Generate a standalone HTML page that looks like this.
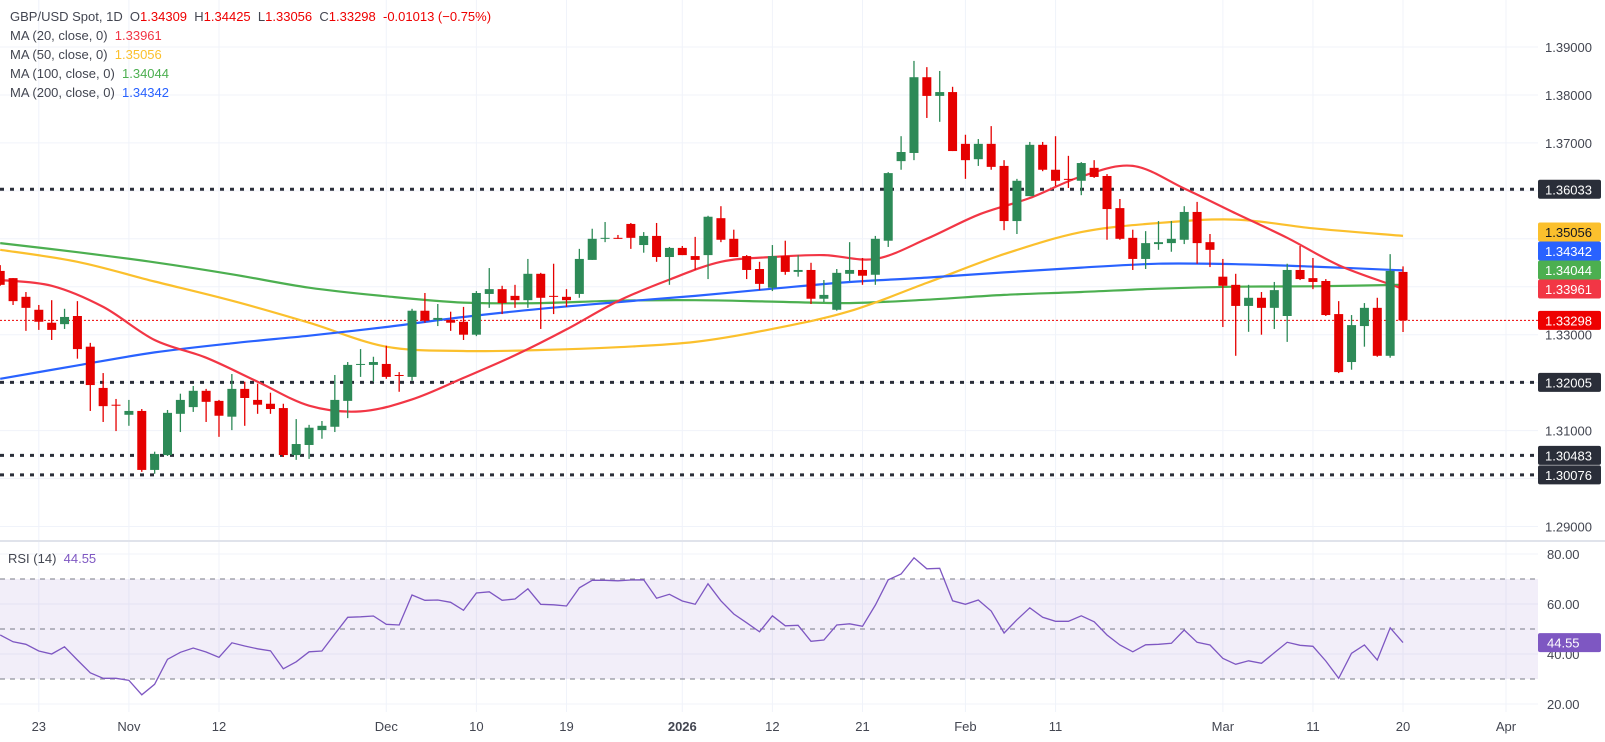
<!DOCTYPE html>
<html><head><meta charset="utf-8"><style>
body{margin:0;background:#fff;}
#wrap{position:relative;width:1605px;height:742px;overflow:hidden;font-family:"Liberation Sans",sans-serif;}
svg{position:absolute;left:0;top:0;}
.lg{position:absolute;left:10px;font-size:13px;color:#434651;white-space:pre;}
</style></head><body>
<div id="wrap">
<svg id="chart" width="1605" height="742"></svg>
<div class="lg" style="top:9px">GBP/USD Spot, 1D  O<span style="color:#e00">1.34309</span>  H<span style="color:#e00">1.34425</span>  L<span style="color:#e00">1.33056</span>  C<span style="color:#e00">1.33298</span>  <span style="color:#e00">-0.01013 (−0.75%)</span></div>
<div class="lg" style="top:28px">MA (20, close, 0)  <span style="color:#f23645">1.33961</span></div>
<div class="lg" style="top:47px">MA (50, close, 0)  <span style="color:#fbc02d">1.35056</span></div>
<div class="lg" style="top:66px">MA (100, close, 0)  <span style="color:#4caf50">1.34044</span></div>
<div class="lg" style="top:85px">MA (200, close, 0)  <span style="color:#2962ff">1.34342</span></div>
<div class="lg" style="top:551px;left:8px">RSI (14)  <span style="color:#7e57c2">44.55</span></div>
</div>
<script>
const opens=[1.3433,1.3418,1.3379,1.3352,1.3325,1.3322,1.3339,1.3275,1.3189,1.3154,1.3133,1.3141,1.3018,1.3049,1.3135,1.3149,1.3183,1.3162,1.3129,1.3187,1.3164,1.3156,1.3147,1.3049,1.3070,1.3101,1.3108,1.3162,1.3237,1.3237,1.3239,1.3216,1.3212,1.3350,1.3331,1.3331,1.3327,1.3300,1.3385,1.3395,1.3381,1.3372,1.3427,1.3381,1.3379,1.3385,1.3456,1.3500,1.3502,1.3531,1.3487,1.3506,1.3462,1.3481,1.3464,1.3466,1.3543,1.3500,1.3464,1.3437,1.3398,1.3464,1.3431,1.3435,1.3375,1.3352,1.3427,1.3435,1.3425,1.3496,1.3662,1.3679,1.3837,1.3798,1.3806,1.3698,1.3666,1.3698,1.3652,1.3537,1.3589,1.3696,1.3644,1.3625,1.3621,1.3648,1.3631,1.3564,1.3502,1.3458,1.3489,1.3491,1.3498,1.3556,1.3493,1.3421,1.3404,1.3360,1.3377,1.3356,1.3339,1.3435,1.3418,1.3412,1.3343,1.3243,1.3318,1.3356,1.3256,1.34309];
const highs=[1.3445,1.3418,1.3389,1.3362,1.3372,1.3354,1.3370,1.3283,1.3220,1.3166,1.3164,1.3145,1.3056,1.3143,1.3177,1.3193,1.3187,1.3164,1.3218,1.3202,1.3198,1.3179,1.3156,1.3124,1.3112,1.3120,1.3216,1.3243,1.3270,1.3254,1.3277,1.3222,1.3354,1.3387,1.3364,1.3348,1.3358,1.3391,1.3439,1.3402,1.3404,1.3458,1.3429,1.3448,1.3395,1.3479,1.3521,1.3535,1.3508,1.3533,1.3514,1.3533,1.3483,1.3485,1.3504,1.3548,1.3568,1.3519,1.3466,1.3452,1.3487,1.3496,1.3466,1.3450,1.3414,1.3437,1.3493,1.3460,1.3506,1.3639,1.3714,1.3871,1.3858,1.3850,1.3817,1.3717,1.3708,1.3735,1.3664,1.3625,1.3702,1.3702,1.3714,1.3673,1.3660,1.3664,1.3635,1.3583,1.3519,1.3516,1.3537,1.3537,1.3568,1.3577,1.3510,1.3458,1.3427,1.3404,1.3389,1.3410,1.3448,1.3485,1.3460,1.3416,1.3370,1.3341,1.3366,1.3377,1.3468,1.34425];
const lows=[1.3402,1.3362,1.3308,1.3310,1.3289,1.3312,1.3250,1.3141,1.3118,1.3099,1.3110,1.3014,1.3010,1.3047,1.3097,1.3139,1.3118,1.3087,1.3101,1.3110,1.3135,1.3135,1.3045,1.3039,1.3041,1.3083,1.3097,1.3126,1.3212,1.3202,1.3208,1.3181,1.3204,1.3325,1.3318,1.3308,1.3289,1.3297,1.3356,1.3343,1.3356,1.3356,1.3312,1.3343,1.3358,1.3377,1.3456,1.3493,1.3500,1.3479,1.3471,1.3452,1.3404,1.3466,1.3435,1.3416,1.3493,1.3462,1.3416,1.3393,1.3391,1.3425,1.3421,1.3364,1.3368,1.3350,1.3412,1.3404,1.3404,1.3483,1.3644,1.3664,1.3752,1.3744,1.3683,1.3625,1.3652,1.3644,1.3518,1.3510,1.3589,1.3641,1.3610,1.3606,1.3591,1.3627,1.3498,1.3498,1.3435,1.3437,1.3477,1.3473,1.3489,1.3448,1.3441,1.3316,1.3256,1.3306,1.3300,1.3312,1.3285,1.3414,1.3395,1.3339,1.3220,1.3227,1.3275,1.3254,1.3252,1.33056];
const closes=[1.3404,1.3370,1.3356,1.3327,1.3310,1.3337,1.3270,1.3195,1.3151,1.3153,1.3141,1.3018,1.3051,1.3137,1.3164,1.3183,1.3160,1.3131,1.3187,1.3168,1.3154,1.3145,1.3049,1.3072,1.3106,1.3110,1.3164,1.3237,1.3239,1.3243,1.3212,1.3214,1.3350,1.3329,1.3335,1.3325,1.3300,1.3387,1.3395,1.3366,1.3372,1.3427,1.3377,1.3379,1.3372,1.3458,1.3500,1.3502,1.3500,1.3502,1.3506,1.3462,1.3481,1.3466,1.3456,1.3546,1.3498,1.3462,1.3435,1.3406,1.3464,1.3431,1.3435,1.3375,1.3383,1.3429,1.3435,1.3423,1.3500,1.3637,1.3681,1.3837,1.3798,1.3806,1.3683,1.3664,1.3698,1.3650,1.3537,1.3621,1.3696,1.3644,1.3621,1.3623,1.3658,1.3629,1.3562,1.3500,1.3458,1.3491,1.3493,1.3500,1.3556,1.3491,1.3477,1.3402,1.3360,1.3377,1.3356,1.3393,1.3435,1.3416,1.3410,1.3341,1.3222,1.3320,1.3356,1.3256,1.3433,1.33298];
const maIdx=[0,6,12,18,24,30,36,42,48,54,60,66,72,78,84,90,96,102,109];
const ma50=[1.3477,1.3452,1.3411,1.3371,1.3325,1.3275,1.3266,1.3268,1.3274,1.3285,1.3312,1.3349,1.3408,1.3468,1.3514,1.3533,1.3540,1.3522,1.3506];
const ma100=[1.3491,1.3472,1.3451,1.3426,1.3398,1.3380,1.3367,1.3366,1.3371,1.3372,1.3369,1.3366,1.3373,1.3383,1.3389,1.3396,1.3400,1.3401,1.3404];
const ma200=[1.3208,1.3236,1.3263,1.3282,1.3298,1.3316,1.3337,1.3354,1.3368,1.3381,1.3396,1.3410,1.3419,1.3430,1.3440,1.3448,1.3447,1.3442,1.3434];
const ma20Idx=[0,4,8,12,16,20,24,28,32,36,40,44,48,52,56,60,64,68,72,76,80,84,88,92,96,100,104,108,109];
const ma20=[1.3414,1.3402,1.3358,1.3289,1.3252,1.3202,1.3152,1.3140,1.3165,1.3210,1.3257,1.3311,1.3370,1.3415,1.3452,1.3462,1.3466,1.3458,1.3500,1.3550,1.3585,1.3630,1.3652,1.3605,1.3553,1.3502,1.3445,1.3405,1.3396];
const rsi=[47.6,44.9,43.9,41.2,40.0,42.9,37.6,32.5,30.3,30.3,29.5,23.7,27.9,37.9,40.7,42.4,40.8,38.7,44.5,43.2,42.1,41.3,34.1,36.9,40.9,41.2,48.0,54.7,54.9,55.2,51.9,51.6,63.6,61.5,61.6,60.7,57.5,64.4,64.9,61.5,62.0,66.1,59.9,59.7,59.2,66.5,69.5,69.5,69.3,69.6,69.7,62.3,63.9,61.2,59.9,68.1,61.3,56.0,52.5,48.9,55.3,51.3,51.5,45.1,45.6,51.6,52.1,51.1,59.6,69.7,72.0,78.5,74.1,74.3,61.3,59.9,61.6,57.2,48.4,53.7,58.5,54.7,53.1,53.1,55.3,52.9,47.6,43.6,40.9,43.7,43.9,44.3,49.6,44.7,43.6,38.3,35.9,37.3,36.3,40.5,44.7,43.5,43.1,37.2,30.3,40.3,43.6,37.6,50.5,44.55];
const priceTicks=[1.39,1.38,1.37,1.33,1.31,1.29];
const rsiTicks=[80,60,40,20];
const timeIdx=[3,10,17,30,37,44,53,60,67,75,82,95,102,109,117];
const timeLabels=["23","Nov","12","Dec","10","19","2026","12","21","Feb","11","Mar","11","20","Apr"];
const levels=[1.36033,1.32005,1.30483,1.30076];

const NS="http://www.w3.org/2000/svg";
const svg=document.getElementById('chart');
const X=i=>0.2+12.87*i;
const Y=p=>47+(1.39-p)*4795;
const YR=v=>554+(80-v)*2.5;
const PW=1538;
function mk(tag,attrs,parent){const e=document.createElementNS(NS,tag);for(const k in attrs)e.setAttribute(k,attrs[k]);(parent||svg).appendChild(e);return e;}
function txt(s,x,y,attrs){const t=mk('text',Object.assign({x:x,y:y,'font-size':13,'font-family':'Liberation Sans, sans-serif'},attrs));t.textContent=s;return t;}
function smoothPath(pts){let d='M'+pts[0][0].toFixed(1)+','+pts[0][1].toFixed(1);
for(let k=0;k<pts.length-1;k++){const p0=pts[Math.max(0,k-1)],p1=pts[k],p2=pts[k+1],p3=pts[Math.min(pts.length-1,k+2)];
const c1x=p1[0]+(p2[0]-p0[0])/6,c1y=p1[1]+(p2[1]-p0[1])/6,c2x=p2[0]-(p3[0]-p1[0])/6,c2y=p2[1]-(p3[1]-p1[1])/6;
d+=' C'+c1x.toFixed(1)+','+c1y.toFixed(1)+' '+c2x.toFixed(1)+','+c2y.toFixed(1)+' '+p2[0].toFixed(1)+','+p2[1].toFixed(1);}
return d;}

for(let p=1.29;p<=1.3901;p+=0.01){const l=mk('line',{x1:0,x2:PW,y1:Y(p),y2:Y(p),stroke:'#f0f3fa'});

}
for(let v=20;v<=80;v+=20){const l=mk('line',{x1:0,x2:PW,y1:YR(v),y2:YR(v),stroke:'#f0f3fa'});

}
timeIdx.forEach(i=>{const l=mk('line',{x1:X(i),x2:X(i),y1:0,y2:712,stroke:'#f0f3fa'});

});
const sep=mk('line',{x1:0,x2:1605,y1:541,y2:541,stroke:'#e0e3eb','stroke-width':2});



levels.forEach(p=>{const l=mk('line',{x1:0,x2:PW,y1:Y(p),y2:Y(p),stroke:'#2a2e39','stroke-width':3,'stroke-dasharray':'4 6'});

});
const cp=mk('line',{x1:0,x2:PW,y1:Y(closes[closes.length-1]),y2:Y(closes[closes.length-1]),stroke:'#e00','stroke-width':1,'stroke-dasharray':'2 2'});



function maLine(idx,vals,col,name){const pts=idx.map((i,k)=>[X(i),Y(vals[k])]);
const l=mk('path',{d:smoothPath(pts),fill:'none',stroke:col,'stroke-width':2.2,'stroke-linejoin':'round'});

}
maLine(maIdx,ma100,'#4caf50','ma100-line');
maLine(maIdx,ma50,'#fbc02d','ma50-line');
maLine(maIdx,ma200,'#2962ff','ma200-line');
maLine(ma20Idx,ma20,'#f23645','ma20-line');

const cg=mk('g',{});


opens.forEach((o,i)=>{const c=closes[i],up=c>=o,col=up?'#2d8a57':'#e50000',x=X(i);
const w=mk('line',{x1:x,x2:x,y1:Y(highs[i]),y2:Y(lows[i]),stroke:col,'stroke-width':1.3},cg);


const top=Y(Math.max(o,c)),h=Math.max(1,Math.abs(Y(o)-Y(c)));
const b=mk('rect',{x:x-4.5,y:top,width:9,height:h,fill:col},cg);

});

const band=mk('rect',{x:0,y:YR(70),width:PW,height:YR(30)-YR(70),fill:'rgba(126,87,194,0.1)'});


[70,50,30].forEach(v=>{const l=mk('line',{x1:0,x2:PW,y1:YR(v),y2:YR(v),stroke:'#787b86','stroke-dasharray':'5 5'});

});
const rl=mk('polyline',{points:rsi.map((v,i)=>X(i).toFixed(1)+','+YR(v).toFixed(1)).join(' '),fill:'none',stroke:'#7e57c2','stroke-width':1.3});



priceTicks.forEach(p=>{const t=txt(p.toFixed(5),1545,Y(p)+5,{fill:'#434651'});

});
rsiTicks.forEach(v=>{const t=txt(v.toFixed(2),1547,YR(v)+5,{fill:'#434651'});

});
timeIdx.forEach((i,k)=>{const t=txt(timeLabels[k],X(i),731,{fill:'#434651','text-anchor':'middle','font-weight':timeLabels[k]==='2026'?'bold':'normal'});

});

function box(p,bg,fg,name,yOverride){const y=yOverride!==undefined?yOverride:Y(p);
const g=mk('g',{});


mk('rect',{x:1538,y:y-9.5,width:63,height:19,rx:2,fill:bg},g);
const t=txt(p.toFixed(5),1545,y+5,{fill:fg});g.appendChild(t);}
levels.forEach(p=>box(p,'#2a2e39','#fff','level-price-box'));
box(1.35056,'#fbc02d','#131722','ma50-price-box',232);
box(1.34342,'#2962ff','#fff','ma200-price-box',251);
box(1.34044,'#4caf50','#fff','ma100-price-box',270);
box(1.33961,'#f23645','#fff','ma20-price-box',289);
box(closes[closes.length-1],'#e00','#fff','last-price-box');
const rg=mk('g',{});


mk('rect',{x:1538,y:YR(rsi[rsi.length-1])-9.5,width:63,height:19,rx:2,fill:'#7e57c2'},rg);
rg.appendChild(txt(rsi[rsi.length-1].toFixed(2),1547,YR(rsi[rsi.length-1])+5,{fill:'#fff'}));
</script>
</body></html>
